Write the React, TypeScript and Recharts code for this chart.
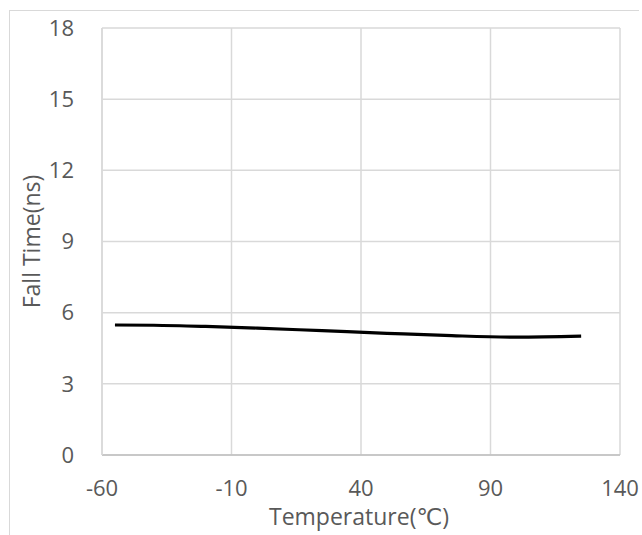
import { LineChart, Line, XAxis, YAxis, CartesianGrid, Label } from "recharts";

const temps = [-55, -40, -20, 0, 25, 50, 75, 100, 125];
const fallTime = [5.48, 5.47, 5.42, 5.35, 5.24, 5.13, 5.03, 4.97, 5.01];
const xTicks = [-60, -10, 40, 90, 140];
const yTicks = [0, 3, 6, 9, 12, 15, 18];

const data = temps.map((t, i) => ({ temp: t, fall: fallTime[i] }));

const FONT = "'Open Sans', 'DejaVu Sans', sans-serif";
const TEXT = "#595959";

const YTitle = (props: any) => {
    const vb = props.viewBox;
    const cx = vb.x + 8;
    const cy = vb.y + vb.height / 2;
    return (
        <text
            x={cx}
            y={cy}
            transform={`rotate(-90 ${cx} ${cy})`}
            textAnchor="middle"
            fill={TEXT}
            fontSize={23}
            fontFamily={FONT}
        >
            Fall Time(ns)
        </text>
    );
};

const XTitle = (props: any) => {
    const vb = props.viewBox;
    return (
        <text
            x={vb.x + vb.width / 2 - 2}
            y={vb.y + 70}
            textAnchor="middle"
            fill={TEXT}
            fontSize={23}
            fontFamily={FONT}
        >
            Temperature(℃)
        </text>
    );
};

export default function App() {
    return (
        <div style={{ position: "absolute", left: 0, top: 0, width: 642, height: 535, background: "#fff", overflow: "hidden" }}>
            <div
                style={{
                    position: "absolute",
                    left: 9,
                    top: 10,
                    width: 629,
                    height: 530,
                    borderTop: "1.5px solid #d9d9d9",
                    borderLeft: "1.5px solid #d9d9d9",
                }}
            />
            <LineChart
                width={642}
                height={535}
                data={data}
                margin={{ top: 28, right: 22, left: 32, bottom: 0 }}
                style={{ position: "absolute", left: 0, top: 0 }}
            >
                <CartesianGrid stroke="#d9d9d9" strokeWidth={1.5} />
                <XAxis
                    dataKey="temp"
                    type="number"
                    domain={[-60, 140]}
                    ticks={xTicks}
                    interval={0}
                    height={80}
                    tickLine={false}
                    tickSize={0}
                    tickMargin={25}
                    axisLine={{ stroke: "#bfbfbf", strokeWidth: 1.5 }}
                    tick={{ fill: TEXT, fontSize: 22, fontFamily: FONT }}
                >
                    <Label content={XTitle} />
                </XAxis>
                <YAxis
                    type="number"
                    domain={[0, 18]}
                    ticks={yTicks}
                    interval={0}
                    width={70}
                    tickLine={false}
                    tickSize={0}
                    tickMargin={28}
                    axisLine={{ stroke: "#d9d9d9", strokeWidth: 1.5 }}
                    tick={{ fill: TEXT, fontSize: 22, fontFamily: FONT }}
                >
                    <Label content={YTitle} />
                </YAxis>
                <Line
                    dataKey="fall"
                    type="monotone"
                    stroke="#000"
                    strokeWidth={3.2}
                    dot={false}
                    isAnimationActive={false}
                />
            </LineChart>
        </div>
    );
}
